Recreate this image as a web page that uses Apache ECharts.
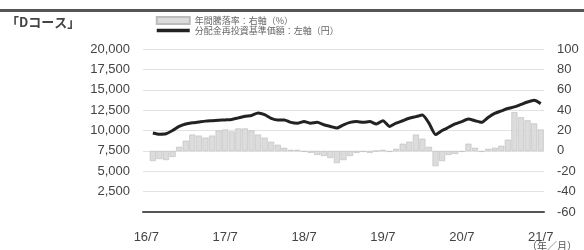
<!DOCTYPE html>
<html>
<head>
<meta charset="utf-8">
<script src="https://cdn.jsdelivr.net/npm/echarts@6/dist/echarts.min.js"></script>
<style>
  html, body { margin: 0; padding: 0; background: #fff; }
  #chart { width: 584px; height: 250px; }
</style>
</head>
<body>
<div id="chart"></div>
<script>
// 月次 2016/7 〜 2021/7
var months = [];
for (var y = 2016; y <= 2021; y++) {
  for (var m = 1; m <= 12; m++) {
    if ((y === 2016 && m < 7) || (y === 2021 && m > 7)) continue;
    months.push((y % 100) + '/' + m);
  }
}

// 年間騰落率（%） 2016/8〜
var annualReturn = [null,
  -10, -8, -9, -6,
  4, 10, 16, 15, 13, 15, 20, 21, 19, 22, 22, 20, 16,
  13, 9, 6, 3, 1, 1, -1, -2, -4, -5, -7, -12,
  -9, -5, -2, -1, -2, 0, 1, -1, 2, 7, 9, 16,
  12, 4, -15, -10, -4, -3, -1, 7, 3, -1, 2, 3,
  5, 11, 38, 33, 30, 27, 21
];

// 分配金再投資基準価額（円） 2016/8〜
var navReinvested = [null,
  9700, 9550, 9600, 10000,
  10500, 10800, 10950, 11050, 11150, 11200, 11250, 11300, 11350, 11550, 11750, 11850, 12150,
  11950, 11500, 11300, 11300, 11000, 10900, 11100, 10900, 11000, 10700, 10500, 10300,
  10700, 11000, 11100, 11000, 11100, 10800, 11200, 10500, 10900, 11200, 11500, 11700,
  11900, 10900, 9500, 10000, 10400, 10800, 11100, 11400, 11200, 11000, 11600, 12100,
  12400, 12700, 12900, 13200, 13500, 13700, 13300
];

var barName = '年間騰落率：右軸（%）';
var lineName = '分配金再投資基準価額：左軸（円）';

var font = "'Liberation Sans Narrow', 'Liberation Sans', Arial, sans-serif";
var cjk = "'Noto Sans CJK JP', sans-serif";

var chart = echarts.init(document.getElementById('chart'));
chart.setOption({
  animation: false,
  grid: { left: 143, right: 40, top: 49, bottom: 38 },
  legend: {
    orient: 'vertical',
    left: 150,
    top: 11,
    itemWidth: 33,
    itemHeight: 7,
    itemGap: 1,
    textStyle: { fontFamily: cjk, fontSize: 9, color: '#666' },
    data: [
      { name: barName, icon: 'rect' },
      { name: lineName, itemStyle: { opacity: 0 }, lineStyle: { width: 3.5, color: '#222' } }
    ]
  },
  graphic: [
    { type: 'rect', left: 0, top: 9, shape: { width: 584, height: 3 }, style: { fill: '#555' } },
    { type: 'text', left: 6, top: 16, style: { text: '「Dコース」', fontFamily: cjk, fontSize: 13, fontWeight: 'bold', fill: '#444' } },
    { type: 'text', left: 527, top: 241, style: { text: '（年／月）', fontFamily: cjk, fontSize: 10, fill: '#555' } }
  ],
  xAxis: {
    type: 'category',
    data: months,
    boundaryGap: true,
    axisLine: { lineStyle: { color: '#555', width: 2 } },
    axisTick: { interval: 11, length: 3, lineStyle: { color: '#777' } },
    axisLabel: { interval: 11, margin: 19, fontFamily: font, fontSize: 13, color: '#444' }
  },
  yAxis: [
    {
      type: 'value',
      min: 0, max: 20000, interval: 2500,
      axisLine: { show: false }, axisTick: { show: false },
      splitLine: { lineStyle: { color: '#e2e2e2' } },
      axisLabel: {
        showMinLabel: false, margin: 13,
        fontFamily: font, fontSize: 13, color: '#444',
        formatter: function (v) { return v.toLocaleString('en-US'); }
      }
    },
    {
      type: 'value',
      min: -60, max: 100, interval: 20,
      axisLine: { show: false }, axisTick: { show: false },
      splitLine: { show: false },
      axisLabel: { margin: 13, fontFamily: font, fontSize: 13, color: '#444' }
    }
  ],
  series: [
    {
      name: barName,
      type: 'bar',
      yAxisIndex: 1,
      data: annualReturn,
      barCategoryGap: '8%',
      itemStyle: { color: '#dcdcdc', borderColor: '#bcbcbc', borderWidth: 0.6 }
    },
    {
      name: lineName,
      type: 'line',
      yAxisIndex: 0,
      data: navReinvested,
      symbol: 'none',
      smooth: 0.2,
      lineStyle: { color: '#222', width: 3 },
      itemStyle: { color: '#222' }
    }
  ]
});
</script>
</body>
</html>
